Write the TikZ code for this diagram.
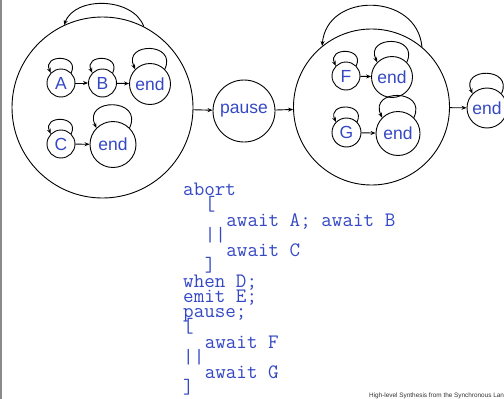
\documentclass[tikz,border=0pt]{standalone}
\usepackage{fontspec}
\setmainfont{Liberation Sans}
\usetikzlibrary{arrows.meta}
\definecolor{lblue}{RGB}{52,72,196}
\definecolor{edgegray}{RGB}{138,138,138}
\tikzset{
  st/.style={draw=black, line width=0.9pt, circle, inner sep=0pt, text=lblue,
             font=\fontsize{17.5}{18}\selectfont},
  arr/.style={draw=black, line width=0.9pt, -{Stealth[length=5pt,width=4pt]}},
  sl/.style={out=65, in=115, looseness=2.6},
  code/.style={anchor=base west, inner sep=0pt, text=lblue,
               font=\ttfamily\fontsize{20.5}{15.25}\selectfont},
}
\begin{document}
\begin{tikzpicture}[x=1pt,y=1pt]
\useasboundingbox (0,0) rectangle (504,-399);
\draw[edgegray, line width=1.2pt] (1,0) -- (1,-399);

% first big state
\node[st, minimum size=181pt] (c1) at (102.5,-107.5) {};
\node[st, minimum size=28pt] (A) at (61,-83) {A};
\node[st, minimum size=28pt] (B) at (102.5,-83) {B};
\node[st, minimum size=41pt] (e1) at (150,-84) {end};
\node[st, minimum size=28pt] (C) at (61,-144) {C};
\node[st, minimum size=46pt] (e2) at (113,-144.5) {end};

% pause
\node[st, minimum size=62pt] (p) at (244,-111) {pause};

% second big state
\node[st, minimum size=156pt] (c2) at (371.5,-107) {};
\node[st, minimum size=28pt] (F) at (346,-76) {F};
\node[st, minimum size=41pt] (e3) at (392,-77) {end};
\node[st, minimum size=29pt] (G) at (346.5,-132.5) {G};
\node[st, minimum size=44pt] (e4) at (398,-133.5) {end};

% final end
\node[st, minimum size=40pt] (e5) at (487,-108) {end};

% transitions
\draw[arr] (A) -- (B);
\draw[arr] (B) -- (e1);
\draw[arr] (C) -- (e2);
\draw[arr] (F) -- (e3);
\draw[arr] (G) -- (e4);
\draw[arr] (c1) -- (p);
\draw[arr] (p) -- (c2);
\draw[arr] (c2) -- (e5);

% self loops
\foreach \n in {A,B,e1,C,e2,F,e3,G,e4,e5}
  \draw[arr] (\n.45) to[sl] (\n.135);
\draw[arr] (c1.63.6) to[out=110,in=70,looseness=1] (c1.115.6);
\draw[arr] (c2.50) to[out=95,in=85,looseness=1.4] (c2.129);

% code
\node[code] (l0) at (183,-195.7) {abort};
\node[code] (l1) at (204.6,-210.95) {[};
\node[code] (l2) at (226.2,-226.2) {await A; await B};
\node[code] (l3) at (204.6,-241.45) {||};
\node[code] (l4) at (226.2,-256.7) {await C};
\node[code] (l5) at (204.6,-271.95) {]};
\node[code] (l6) at (183,-287.2) {when D;};
\node[code] (l7) at (183,-302.45) {emit E;};
\node[code] (l8) at (183,-317.7) {pause;};
\node[code] (l9) at (183,-332.95) {[};
\node[code] (l10) at (204.6,-348.2) {await F};
\node[code] (l11) at (183,-363.45) {||};
\node[code] (l12) at (204.6,-378.7) {await G};
\node[code] (l13) at (183,-393.95) {]};

% footer
\node[anchor=base west, inner sep=0pt, text=black!80, font=\fontsize{6.4}{7}\selectfont]
  (foot) at (369,-397) {High-level Synthesis from the Synchronous Language Esterel};
\end{tikzpicture}
\end{document}
